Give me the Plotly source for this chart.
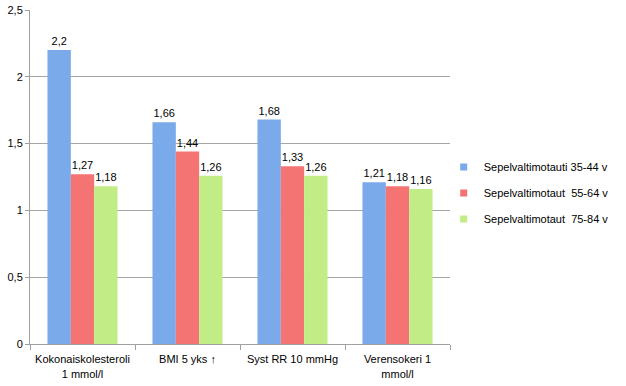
import plotly.graph_objects as go

categories = ["Kokonaiskolesteroli<br>1 mmol/l", "BMI 5 yks ↑", "Syst RR 10 mmHg", "Verensokeri 1<br>mmol/l"]
series_names = ["Sepelvaltimotauti 35-44 v", "Sepelvaltimotaut  55-64 v", "Sepelvaltimotaut  75-84 v"]
values_35_44 = [2.2, 1.66, 1.68, 1.21]
values_55_64 = [1.27, 1.44, 1.33, 1.18]
values_75_84 = [1.18, 1.26, 1.26, 1.16]
colors = ["#7aaaea", "#f47474", "#c2ec86"]

def fmt(v):
    return f"{v:g}".replace(".", ",")

fig = go.Figure()
for i, (name, vals) in enumerate(zip(series_names, [values_35_44, values_55_64, values_75_84])):
    fig.add_trace(go.Bar(
        x=categories, y=vals, name=name,
        marker=dict(color=colors[i], line=dict(width=0)),
        text=[fmt(v) for v in vals], textposition="outside",
        textfont=dict(size=11, color="#000000"),
        cliponaxis=False, showlegend=False,
    ))
# legend entries with small square swatches
for i, name in enumerate(series_names):
    fig.add_trace(go.Scatter(
        x=[None], y=[None], mode="markers", name=name,
        marker=dict(symbol="square", size=7, color=colors[i]),
        legendgroup=f"g{i}", showlegend=True,
    ))

fig.update_layout(
    width=626, height=386,
    margin=dict(l=30, r=176, t=10, b=42, autoexpand=False),
    paper_bgcolor="white", plot_bgcolor="white",
    barmode="group", bargap=0.333, bargroupgap=0,
    separators=", ",
    font=dict(family="Liberation Sans, DejaVu Sans, sans-serif", size=11, color="#000000"),
    showlegend=True,
    legend=dict(x=0.985, xanchor="left", y=0.452, yanchor="middle",
                font=dict(size=11), tracegroupgap=7, itemwidth=30,
                bgcolor="rgba(0,0,0,0)"),
    xaxis=dict(tickson="boundaries", ticks="outside", ticklen=5, tickcolor="#a0a0a0",
               showline=True, linecolor="#a0a0a0", linewidth=1, showgrid=False,
               tickfont=dict(size=11), tickangle=0, automargin=False,
               ticklabelstandoff=5),
    yaxis=dict(range=[0, 2.5], dtick=0.5, showgrid=True, gridcolor="#a6a6a6", gridwidth=1,
               showline=True, linecolor="#a0a0a0", linewidth=1, ticks="outside", ticklen=4,
               tickcolor="#a0a0a0", zeroline=False, tickfont=dict(size=11),
               tickformat=".1~f", automargin=False),
)

fig.write_html("out.html", config={"displayModeBar": False},
               post_script="document.body.style.margin='0';")
